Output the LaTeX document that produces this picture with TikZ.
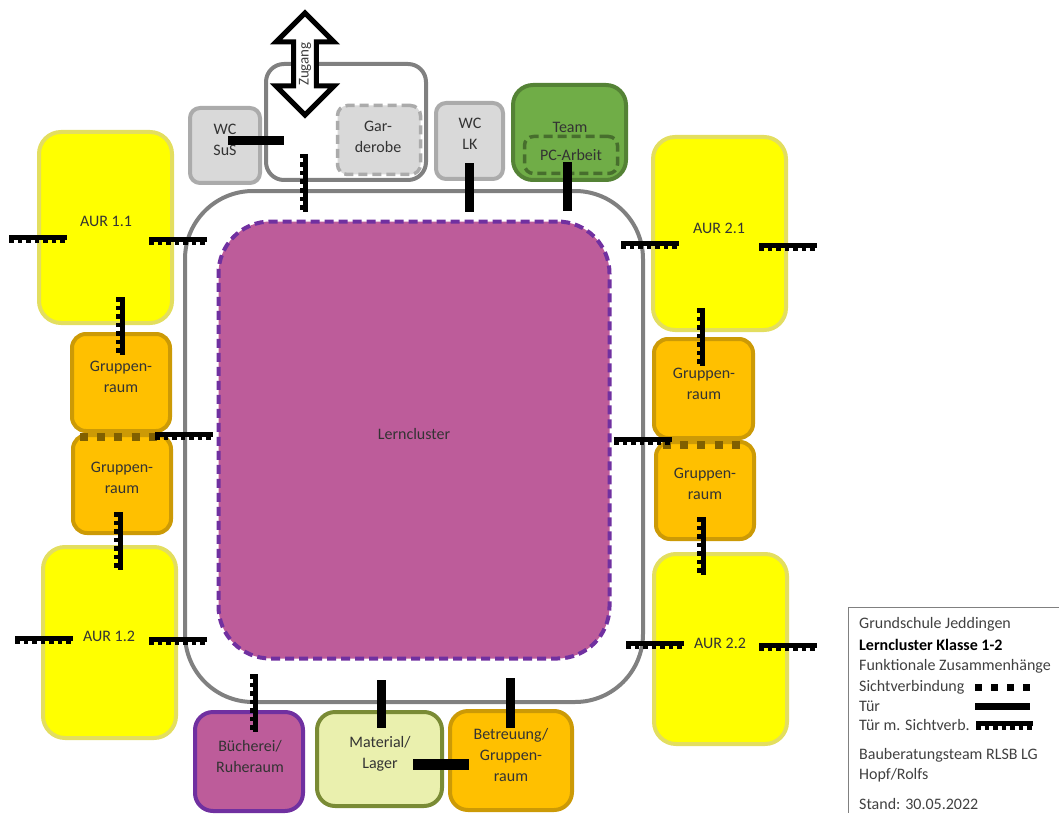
\documentclass[tikz,border=0pt]{standalone}
\usepackage{fontspec}
\setmainfont{Carlito}
\usetikzlibrary{shapes.arrows}
\definecolor{aurfill}{HTML}{FFFF00}
\definecolor{aurline}{HTML}{E3DE5F}
\definecolor{grfill}{HTML}{FFC000}
\definecolor{grline}{HTML}{CC9A06}
\definecolor{lilafill}{HTML}{BD5C9A}
\definecolor{lilaline}{HTML}{7030A0}
\definecolor{wcfill}{HTML}{D9D9D9}
\definecolor{wcline}{HTML}{ABABAB}
\definecolor{teamfill}{HTML}{70AD47}
\definecolor{teamline}{HTML}{548235}
\definecolor{matfill}{HTML}{EAF0AE}
\definecolor{matline}{HTML}{7A8B35}
\definecolor{sichtcol}{HTML}{806000}
\definecolor{txtcol}{HTML}{404040}
\tikzset{
  room/.style={draw,line width=4pt,rounded corners=#1,inner sep=0pt,outer sep=0pt},
  room/.default=16pt,
  aur/.style={room=22pt,fill=aurfill,draw=aurline},
  grupp/.style={room=14pt,fill=grfill,draw=grline},
  wc/.style={room=10pt,fill=wcfill,draw=wcline},
  lbl/.style={align=center,inner sep=0pt,text=black!80},
  leg/.style={anchor=west,inner sep=0pt,text=txtcol},
  tuerw/.style={line width=5pt,line cap=butt,
    preaction={draw,line width=4pt,dash pattern=on 4.5pt off 4pt,transform canvas={yshift=-4pt}}},
  tuers/.style={line width=5pt,line cap=butt,
    preaction={draw,line width=4pt,dash pattern=on 4.5pt off 4pt,transform canvas={xshift=-4pt}}},
  sicht/.style={line width=8pt,draw=sichtcol,dash pattern=on 8pt off 9.2pt}
}
\begin{document}
\begin{tikzpicture}[x=1pt,y=-1pt,line join=round,font=\fontsize{16}{21}\selectfont]
  \useasboundingbox (0,0) rectangle (1059,813);
  % Ring
  \node[room=68pt,draw=black!50,minimum width=458pt,minimum height=511pt] (ring) at (414,446.5) {};
  \node[room=52pt,fill=lilafill,draw=lilaline,line width=4pt,dash pattern=on 9pt off 5pt,
    minimum width=391pt,minimum height=437pt] (lern) at (414,440) {};
  \node[lbl] (lernt) at (414,434) {Lerncluster};
  % links
  \node[aur,minimum width=133pt,minimum height=191pt] (aur11) at (105.5,227.5) {};
  \node[aur,minimum width=133pt,minimum height=191pt] (aur12) at (109.5,642.5) {};
  \node[grupp,minimum width=98pt,minimum height=97pt] (gr1) at (121,382.5) {};
  \node[grupp,minimum width=98pt,minimum height=98pt] (gr2) at (122,484) {};
  \node[lbl] (aur11t) at (106,221) {AUR 1.1};
  \node[lbl] (aur12t) at (109,636) {AUR 1.2};
  \node[lbl] (gr1t) at (121,377) {Gruppen-\\raum};
  \node[lbl] (gr2t) at (122,478) {Gruppen-\\raum};
  % rechts
  \node[aur,minimum width=133pt,minimum height=193pt] (aur21) at (719.5,233.5) {};
  \node[aur,minimum width=133pt,minimum height=190pt] (aur22) at (720.5,649) {};
  \node[grupp,minimum width=99pt,minimum height=99pt] (gr3) at (703.5,388.5) {};
  \node[grupp,minimum width=98pt,minimum height=97pt] (gr4) at (705,490.5) {};
  \node[lbl] (aur21t) at (719,228) {AUR 2.1};
  \node[lbl] (aur22t) at (720,643) {AUR 2.2};
  \node[lbl] (gr3t) at (704,384) {Gruppen-\\raum};
  \node[lbl] (gr4t) at (705,484) {Gruppen-\\raum};
  % oben
  \node[wc,minimum width=70pt,minimum height=75pt] (wcsus) at (225,145.5) {};
  \node[room=18pt,fill=white,draw=black!50,minimum width=160pt,minimum height=116pt] (gar) at (346,122) {};
  \node[room=10pt,fill=wcfill,draw=wcline,line width=3.5pt,dash pattern=on 9pt off 5pt,
    minimum width=83pt,minimum height=69pt] (gard) at (379,140) {};
  \node[wc,minimum width=67pt,minimum height=76pt] (wclk) at (469.5,141) {};
  \node[room=20pt,fill=teamfill,draw=teamline,minimum width=113pt,minimum height=95pt] (team) at (569.5,132.5) {};
  \node[room=9pt,draw=teamline!85!black,line width=3.5pt,dash pattern=on 9pt off 5pt,
    minimum width=93pt,minimum height=37pt] (pc) at (571,155) {};
  \node[lbl] (wcsust) at (225,139.5) {WC\\SuS};
  \node[lbl] (gardt) at (378,136.5) {Gar-\\derobe};
  \node[lbl] (wclkt) at (470,134) {WC\\LK};
  \node[lbl] (teamt) at (570,127) {Team};
  \node[lbl] (pct) at (571,155) {PC-Arbeit};
  \node[double arrow,draw,fill=white,line width=5pt,line join=miter,rotate=90,inner sep=0pt,outer sep=0pt,
    minimum height=102pt,minimum width=58pt,double arrow head extend=13.5pt,
    double arrow head indent=0pt,text=black!75,font=\fontsize{15}{15}\selectfont] (zugang) at (305,64) {Zugang};
  % unten
  \node[room=18pt,fill=lilafill,draw=lilaline,minimum width=108pt,minimum height=99pt] (buch) at (249,761.5) {};
  \node[room=18pt,fill=matfill,draw=matline,minimum width=125pt,minimum height=94pt] (mat) at (379.5,759) {};
  \node[room=18pt,fill=grfill,draw=grline,minimum width=122pt,minimum height=99pt] (betr) at (511,760.5) {};
  \node[lbl] (bucht) at (250,756) {Bücherei/\\Ruheraum};
  \node[lbl] (matt) at (380,754) {Material/\\Lager};
  \node[lbl] (betrt) at (511,755) {Betreuung/\\Gruppen-\\raum};
  % Sichtverbindungen
  \draw[sicht] (80,437)--(158,437);
  \draw[sicht] (663,445)--(741,445);
  % Tueren
  \fill (465,163) rectangle (474,212);
  \fill (563,162) rectangle (572,211);
  \fill (377,680) rectangle (386,728);
  \fill (506,678) rectangle (514.5,728);
  \fill (228,136) rectangle (284,145);
  \fill (413,759) rectangle (469,770);
  % Tueren m. Sichtverbindung
  \foreach \x/\y in {9/237,149/239,15/638,149/639,155/434,621/243,759/245,626/643,759/645,614/439}
    \draw[tuerw] (\x,\y)--++(58,0);
  \foreach \x/\y in {122/297,120/512,702.5/308,703/517,305.5/154,255.5/674}
    \draw[tuers] (\x,\y)--++(0,58);
  % Legende
  \draw[black!50,line width=1pt] (1059,607)--(848,607)--(848,813);
  \node[leg] (l1) at (859,624) {Grundschule Jeddingen};
  \node[leg,text=black] (l2) at (859,645) {\textbf{Lerncluster Klasse 1-2}};
  \node[leg] (l3) at (859,666) {Funktionale Zusammenhänge};
  \node[leg] (l4) at (859,687) {Sichtverbindung};
  \node[leg] (l5) at (859,706) {Tür};
  \node[leg] (l6) at (859,725) {Tür m. Sichtverb.};
  \node[leg] (l7) at (859,755) {Bauberatungsteam RLSB LG};
  \node[leg] (l8) at (859,775) {Hopf/Rolfs};
  \node[leg] (l9) at (859,804) {Stand: 30.05.2022};
  \draw[line width=7pt,dash pattern=on 7pt off 9pt] (975,687)--(1031,687);
  \fill (975,703) rectangle (1030,710);
  \draw[tuerw] (976,723.5)--++(57,0);
\end{tikzpicture}
\end{document}
